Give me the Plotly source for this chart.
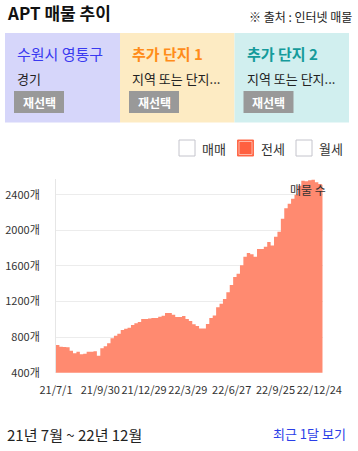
import pandas as pd
import plotly.graph_objects as go

# ---- data (weekly listing counts) ----
start_date = "2021-07-01"
listing_counts = [
    711, 692, 689, 685, 647, 618, 635, 607, 612, 636,
    636, 640, 591, 674, 697, 730, 786, 816, 838, 880,
    894, 905, 936, 955, 970, 1003, 1003, 1008, 1015, 1015,
    1030, 1041, 1071, 1071, 1052, 1026, 1026, 1036, 1003, 980,
    944, 925, 898, 898, 947, 1015, 1044, 1135, 1175, 1228,
    1303, 1385, 1475, 1512, 1607, 1703, 1745, 1730, 1703, 1790,
    1790, 1816, 1869, 1828, 1928, 1984, 2130, 2247, 2299, 2355,
    2400, 2500, 2557, 2550, 2562, 2567, 2540, 2520, 2512,
]
y_ticks = [400, 800, 1200, 1600, 2000, 2400]
y_tick_labels = [f"{v}개" for v in y_ticks]
x_tick_dates = ["2021-07-01", "2021-09-30", "2021-12-29", "2022-03-29",
                "2022-06-27", "2022-09-25", "2022-12-24"]
x_tick_labels = ["21/7/1", "21/9/30", "21/12/29", "22/3/29",
                 "22/6/27", "22/9/25", "22/12/24"]
legend_items = ["매매", "전세", "월세"]
card_titles = ["수원시 영통구", "추가 단지 1", "추가 단지 2"]
card_subtitles = ["경기", "지역 또는 단지...", "지역 또는 단지..."]

dates = list(pd.date_range(start_date, periods=len(listing_counts), freq="7D"))
dates.append(pd.Timestamp("2022-12-31"))
values = listing_counts + [listing_counts[-1]]

W, H = 358, 451
def px(x): return x / W
def py(y): return 1 - y / H

FONT = "Noto Sans CJK KR"

fig = go.Figure()
fig.add_trace(go.Scatter(
    x=dates, y=values, mode="lines", line=dict(width=0, shape="hv"),
    fill="tozeroy", fillcolor="#ff8a70", hoverinfo="skip", showlegend=False,
))

fig.update_layout(
    template="none",
    width=W, height=H, margin=dict(l=0, r=0, t=0, b=0, autoexpand=False),
    paper_bgcolor="white", plot_bgcolor="white",
    font=dict(family=FONT, color="#333"),
    showlegend=False,
    xaxis=dict(
        domain=[px(56), px(322.7)], type="date", automargin=False,
        range=["2021-07-01", "2022-12-31"],
        tickvals=x_tick_dates, ticktext=x_tick_labels, tickangle=0,
        showgrid=False, zeroline=False, showline=False,
        tickfont=dict(size=11, color="#333", family=FONT),
        ticks="", ticklabelstandoff=9, fixedrange=True,
    ),
    yaxis=dict(
        domain=[py(372.7), py(178.7)], automargin=False,
        range=[400, 2580],
        tickvals=y_ticks, ticktext=y_tick_labels,
        showgrid=True, gridcolor="#ececec", gridwidth=1,
        zeroline=False, showline=True, linecolor="#e6e6e6", linewidth=1,
        tickfont=dict(size=11, color="#333", family=FONT),
        ticks="", ticklabelstandoff=13, fixedrange=True,
    ),
)

shapes = []
annotations = []

# header
annotations.append(dict(x=px(5), y=py(13), xref="paper", yref="paper",
                        text="<b>APT 매물 추이</b>", showarrow=False,
                        xanchor="left", yanchor="middle",
                        font=dict(size=17, color="#111", family=FONT)))
annotations.append(dict(x=px(354), y=py(16), xref="paper", yref="paper",
                        text="※ 출처 : 인터넷 매물", showarrow=False,
                        xanchor="right", yanchor="middle",
                        font=dict(size=12, color="#222", family=FONT)))

# cards
card_bg = ["#d6d6fa", "#fdebc3", "#d1efef"]
card_fg = ["#3a3af0", "#ff8c1a", "#159b9b"]
card_x = [(5, 120), (120, 234.5), (234.5, 349)]
for i in range(3):
    x0, x1 = card_x[i]
    shapes.append(dict(type="rect", xref="paper", yref="paper",
                       x0=px(x0), x1=px(x1), y0=py(122.5), y1=py(33),
                       fillcolor=card_bg[i], line=dict(width=0), layer="below"))
    annotations.append(dict(x=px(x0 + 10), y=py(53), xref="paper", yref="paper",
                            text=card_titles[i] if i == 0 else f"<b>{card_titles[i]}</b>",
                            showarrow=False, xanchor="left", yanchor="middle",
                            font=dict(size=15, color=card_fg[i], family=FONT)))
    annotations.append(dict(x=px(x0 + 10), y=py(78), xref="paper", yref="paper",
                            text=card_subtitles[i], showarrow=False,
                            xanchor="left", yanchor="middle",
                            font=dict(size=13, color="#222", family=FONT)))
    shapes.append(dict(type="rect", xref="paper", yref="paper",
                       x0=px(x0 + 9), x1=px(x0 + 59), y0=py(113), y1=py(91),
                       fillcolor="#999999", line=dict(width=0)))
    annotations.append(dict(x=px(x0 + 34), y=py(102), xref="paper", yref="paper",
                            text="<b>재선택</b>", showarrow=False,
                            xanchor="center", yanchor="middle",
                            font=dict(size=12, color="white", family=FONT)))

# legend checkboxes
box_x = [179, 237.5, 296]
for i, lab in enumerate(legend_items):
    bx = box_x[i]
    if i == 1:
        shapes.append(dict(type="rect", xref="paper", yref="paper",
                           x0=px(bx), x1=px(bx + 16), y0=py(156), y1=py(140),
                           fillcolor="#ff6040", line=dict(color="#ff6a4a", width=1)))
        shapes.append(dict(type="rect", xref="paper", yref="paper",
                           x0=px(bx + 1.5), x1=px(bx + 14.5), y0=py(154.5), y1=py(141.5),
                           fillcolor="rgba(0,0,0,0)", line=dict(color="#ffb8a8", width=1)))
    else:
        shapes.append(dict(type="rect", xref="paper", yref="paper",
                           x0=px(bx), x1=px(bx + 16), y0=py(156), y1=py(140),
                           fillcolor="white", line=dict(color="#c4c4cc", width=1)))
    annotations.append(dict(x=px(bx + 21), y=py(148), xref="paper", yref="paper",
                            text=lab, showarrow=False, xanchor="left", yanchor="middle",
                            font=dict(size=13, color="#333", family=FONT)))

# series label
annotations.append(dict(x=px(308), y=py(189), xref="paper", yref="paper",
                        text="매물 수", showarrow=False, xanchor="center", yanchor="middle",
                        font=dict(size=12, color="#333", family=FONT)))

# footer
annotations.append(dict(x=px(5), y=py(434), xref="paper", yref="paper",
                        text="21년 7월 ~ 22년 12월", showarrow=False,
                        xanchor="left", yanchor="middle",
                        font=dict(size=15, color="#222", family=FONT)))
annotations.append(dict(x=px(348), y=py(433), xref="paper", yref="paper",
                        text="최근 1달 보기", showarrow=False,
                        xanchor="right", yanchor="middle",
                        font=dict(size=13, color="#2b3ee8", family=FONT)))

fig.update_layout(shapes=shapes, annotations=annotations)
fig.write_html(
    "out.html",
    config={"displayModeBar": False},
    post_script="document.body.style.margin='0';document.body.style.padding='0';document.body.style.overflow='hidden';",
)
